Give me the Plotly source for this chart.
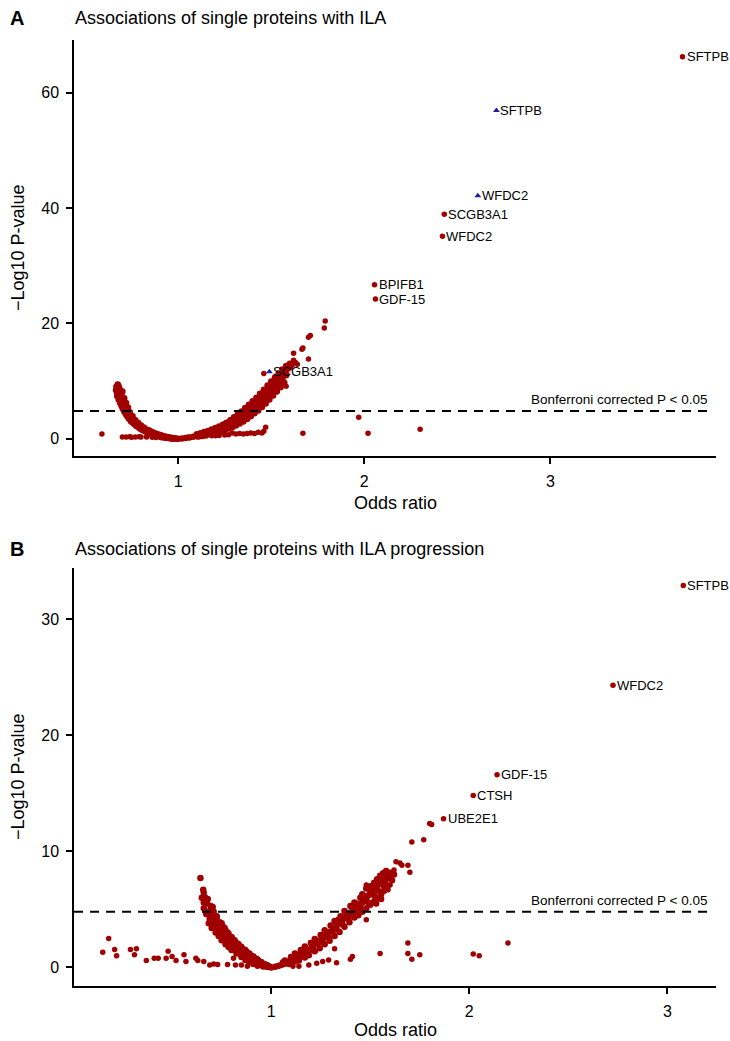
import plotly.graph_objects as go

# ================= Panel A (ILA) : odds ratio / -log10 P =================
# dense "V" band of proteins
a_band_or = [
    # left branch centre
    0.675, 0.68, 0.672, 0.685, 0.678, 0.69, 0.672, 0.695, 0.688, 0.70, 0.695, 0.705, 0.70, 0.712, 0.708,
    0.718, 0.715, 0.725, 0.722, 0.732, 0.73, 0.74, 0.738, 0.75, 0.748, 0.76, 0.765, 0.775, 0.78, 0.79,
    0.795, 0.805, 0.81, 0.82, 0.83, 0.84, 0.85, 0.86, 0.87, 0.88, 0.89, 0.90, 0.91, 0.92, 0.93, 0.94,
    0.95, 0.96, 0.97, 0.98, 0.99, 1.00,
    # left branch inner
    0.70, 0.71, 0.72, 0.73, 0.74, 0.755, 0.77, 0.785, 0.80, 0.815, 0.83, 0.845, 0.86, 0.875, 0.89, 0.905,
    0.92, 0.935, 0.95, 0.965, 0.98,
    # left branch outer
    0.668, 0.666, 0.672, 0.68, 0.688, 0.695, 0.702, 0.71, 0.718, 0.726, 0.735, 0.745, 0.755, 0.765,
    0.775, 0.79, 0.80, 0.815, 0.83, 0.845, 0.86, 0.875, 0.89, 0.905, 0.92, 0.935, 0.95, 0.965,
    # right branch centre
    1.02, 1.04, 1.06, 1.08, 1.10, 1.12, 1.14, 1.16, 1.18, 1.20, 1.22, 1.24, 1.26, 1.28, 1.30, 1.32, 1.34,
    1.36, 1.38, 1.40, 1.42, 1.44, 1.46, 1.48, 1.50, 1.52, 1.54, 1.56, 1.58, 1.60,
    # right branch upper
    1.10, 1.12, 1.14, 1.16, 1.18, 1.20, 1.22, 1.24, 1.26, 1.28, 1.30, 1.32, 1.34, 1.36, 1.38, 1.40,
    1.42, 1.44, 1.46, 1.48, 1.50, 1.52, 1.54, 1.56, 1.58, 1.60,
    # right branch lower
    1.11, 1.13, 1.15, 1.17, 1.19, 1.21, 1.23, 1.25, 1.27, 1.29, 1.31, 1.33, 1.35, 1.37, 1.39, 1.41,
    1.43, 1.45, 1.47, 1.49, 1.51, 1.53, 1.55, 1.57,
    # right branch mid rows
    1.25, 1.29, 1.33, 1.37, 1.41, 1.45, 1.49, 1.53, 1.57,
    1.27, 1.31, 1.35, 1.39, 1.43, 1.47, 1.51, 1.55,
    # right branch fill
    1.11, 1.15, 1.19, 1.21, 1.23, 1.25, 1.27, 1.29, 1.31, 1.33, 1.35, 1.36, 1.37, 1.38, 1.39, 1.40,
    1.41, 1.42, 1.43, 1.44, 1.45, 1.46, 1.47, 1.48, 1.49, 1.50, 1.51, 1.52, 1.53, 1.54, 1.55, 1.56,
    1.57, 1.58, 1.59, 1.61, 1.31, 1.34, 1.28, 1.24, 1.20, 1.16, 1.13,
]
a_band_lp = [
    9.4, 9.1, 8.8, 8.6, 8.2, 8.0, 7.8, 7.5, 7.2, 7.0, 6.6, 6.4, 6.0, 5.9, 5.5,
    5.3, 5.0, 4.8, 4.5, 4.3, 4.0, 3.8, 3.5, 3.3, 3.0, 2.9, 2.6, 2.45, 2.2, 2.05,
    1.85, 1.7, 1.5, 1.4, 1.25, 1.1, 0.98, 0.85, 0.75, 0.63, 0.52, 0.43, 0.36, 0.28, 0.22, 0.16,
    0.11, 0.07, 0.04, 0.02, 0.01, 0.0,
    8.2, 7.0, 6.2, 5.4, 4.6, 3.9, 3.2, 2.7, 2.3, 1.95, 1.6, 1.4, 1.15, 0.95, 0.78, 0.62,
    0.48, 0.35, 0.25, 0.15, 0.08,
    9.0, 8.4, 7.4, 6.8, 6.2, 5.7, 5.2, 4.7, 4.3, 3.9, 3.5, 3.1, 2.8, 2.5,
    2.2, 1.9, 1.65, 1.4, 1.15, 0.95, 0.75, 0.6, 0.45, 0.34, 0.24, 0.16, 0.1, 0.05,
    0.04, 0.12, 0.22, 0.34, 0.48, 0.62, 0.8, 0.98, 1.2, 1.42, 1.68, 1.95, 2.25, 2.6, 3.0, 3.4, 3.9,
    4.5, 5.1, 5.7, 6.3, 6.9, 7.5, 8.2, 8.9, 9.6, 10.4, 11.1, 11.8, 12.4,
    0.75, 0.95, 1.15, 1.35, 1.6, 1.85, 2.1, 2.4, 2.75, 3.2, 3.7, 4.2, 4.7, 5.3, 5.9, 6.5,
    7.1, 7.8, 8.5, 9.2, 9.9, 10.6, 11.3, 12.0, 12.6, 13.0,
    0.4, 0.5, 0.65, 0.8, 0.95, 1.1, 1.3, 1.5, 1.75, 2.0, 2.3, 2.65, 3.0, 3.4, 3.9, 4.4,
    4.9, 5.5, 6.1, 6.8, 7.5, 8.2, 8.9, 9.7,
    2.5, 3.3, 4.2, 5.2, 6.3, 7.5, 8.9, 10.3, 11.8,
    2.2, 2.8, 3.6, 4.6, 5.7, 7.0, 8.3, 9.7,
    0.6, 0.9, 1.25, 1.45, 1.75, 2.05, 2.45, 2.7, 3.05, 3.5, 4.0, 3.8, 4.6, 4.2, 5.0, 4.9,
    5.8, 5.4, 6.4, 6.1, 6.9, 6.6, 7.8, 7.3, 8.4, 8.1, 9.2, 8.8, 9.9, 9.5, 10.8, 10.4,
    11.5, 11.0, 12.2, 12.8, 3.5, 3.2, 2.3, 1.7, 1.2, 1.1, 0.7,
]
# scattered single proteins
a_red_or = [
    1.79, 1.785, 1.71, 1.70, 1.67, 1.665, 1.62, 1.70, 1.62, 1.46, 1.58, 1.34, 1.63, 1.64,
    0.59, 1.97, 1.67, 2.02, 2.30,
    0.70, 0.72, 0.74, 0.75, 0.77, 0.79, 0.80, 0.83, 0.86, 0.88, 0.91,
    1.29, 1.31, 1.33, 1.35, 1.37, 1.39, 1.41, 1.43, 1.45, 1.46, 1.47,
    1.05, 1.10, 1.13, 1.15, 1.18, 1.20, 1.22, 1.25, 1.27,
    3.71, 2.43, 2.42, 2.055, 2.06,
]
a_red_lp = [
    20.4, 19.2, 17.9, 17.6, 15.7, 15.5, 14.8, 13.8, 13.6, 11.3, 9.1, 3.9, 13.2, 12.9,
    0.8, 3.7, 0.95, 0.95, 1.65,
    0.3, 0.3, 0.32, 0.25, 0.3, 0.35, 0.28, 0.3, 0.25, 0.2, 0.15,
    1.0, 0.8, 0.9, 0.8, 0.9, 1.0, 0.9, 1.1, 1.0, 1.3, 2.0,
    0.25, 0.35, 0.4, 0.45, 0.5, 0.5, 0.55, 0.65, 0.7,
    66.2, 38.9, 35.1, 26.7, 24.2,
]
a_blue_or = [2.71, 2.61, 1.49]
a_blue_lp = [56.9, 42.1, 11.6]

a_red_labels = ["SFTPB", "SCGB3A1", "WFDC2", "BPIFB1", "GDF-15"]
a_red_label_or = [3.71, 2.43, 2.42, 2.055, 2.06]
a_red_label_lp = [66.2, 38.9, 35.1, 26.7, 24.2]
a_blue_labels = ["SFTPB", "WFDC2", "SCGB3A1"]

# ================= Panel B (ILA progression) =================
b_band_or = [
    # left centre
    0.643, 0.657, 0.66, 0.65, 0.668, 0.677, 0.66, 0.693, 0.70, 0.71, 0.715, 0.73, 0.745, 0.76, 0.775,
    0.79, 0.805, 0.82, 0.835, 0.85, 0.865, 0.88, 0.895, 0.91, 0.925, 0.94, 0.955, 0.97, 0.985, 1.0,
    # left outer
    0.672, 0.685, 0.70, 0.72, 0.735, 0.75, 0.77, 0.785, 0.80, 0.825, 0.85, 0.87, 0.89, 0.91, 0.935, 0.96,
    # left inner
    0.705, 0.725, 0.75, 0.765, 0.78, 0.80, 0.815, 0.835, 0.85, 0.87, 0.89, 0.91, 0.93, 0.95, 0.97, 0.985,
    # left mid-outer
    0.66, 0.675, 0.69, 0.705, 0.72, 0.735, 0.75, 0.77, 0.785, 0.80, 0.815, 0.83, 0.845, 0.86, 0.875,
    0.89, 0.905, 0.92, 0.94, 0.96, 0.98,
    # left mid-inner
    0.68, 0.695, 0.71, 0.725, 0.74, 0.755, 0.77, 0.785, 0.80, 0.815, 0.83, 0.845, 0.86, 0.875, 0.89,
    0.905, 0.92, 0.935, 0.95, 0.965, 0.98, 0.99,
    # right centre
    1.02, 1.05, 1.08, 1.11, 1.13, 1.16, 1.19, 1.215, 1.24, 1.27, 1.30, 1.33, 1.36, 1.38, 1.41, 1.44,
    1.46, 1.48, 1.50, 1.52, 1.55, 1.58, 1.60,
    # right centre (in-between)
    1.035, 1.065, 1.095, 1.145, 1.175, 1.20, 1.23, 1.255, 1.285, 1.315, 1.345, 1.37, 1.395, 1.425,
    1.45, 1.47, 1.49, 1.51, 1.535, 1.565, 1.59,
    # right upper
    1.10, 1.15, 1.20, 1.25, 1.30, 1.35, 1.40, 1.45, 1.48, 1.52, 1.55, 1.58,
    1.07, 1.12, 1.17, 1.22, 1.27, 1.32, 1.37, 1.42, 1.46, 1.50, 1.535, 1.565,
    # right lower
    1.12, 1.17, 1.22, 1.27, 1.32, 1.37, 1.42, 1.46, 1.50, 1.54, 1.57,
    1.09, 1.14, 1.19, 1.245, 1.295, 1.345, 1.395, 1.44, 1.48, 1.52, 1.555,
    # right fill
    1.06, 1.10, 1.12, 1.15, 1.18, 1.21, 1.23, 1.26, 1.28, 1.29, 1.31, 1.33, 1.34, 1.36, 1.38, 1.39,
    1.41, 1.42, 1.43, 1.45, 1.47, 1.49, 1.50, 1.52, 1.53, 1.54, 1.56, 1.57, 1.59, 1.61, 1.62, 1.585,
    1.555, 1.53,
]
b_band_lp = [
    7.7, 6.7, 6.4, 6.0, 6.0, 5.5, 5.1, 4.9, 4.5, 4.2, 3.8, 3.5, 3.2, 2.9, 2.6,
    2.3, 2.0, 1.75, 1.5, 1.3, 1.1, 0.9, 0.72, 0.56, 0.42, 0.3, 0.2, 0.12, 0.05, 0.0,
    4.6, 3.8, 3.4, 3.0, 2.7, 2.35, 2.0, 1.75, 1.5, 1.2, 0.9, 0.65, 0.45, 0.3, 0.18, 0.08,
    5.2, 4.4, 3.8, 3.4, 3.0, 2.6, 2.35, 2.0, 1.75, 1.5, 1.2, 0.95, 0.7, 0.45, 0.25, 0.12,
    5.6, 4.8, 4.2, 3.7, 3.3, 3.0, 2.7, 2.35, 2.05, 1.8, 1.55, 1.35, 1.15, 0.95, 0.78,
    0.62, 0.48, 0.36, 0.24, 0.14, 0.06,
    5.9, 5.3, 4.8, 4.3, 3.9, 3.55, 3.2, 2.9, 2.6, 2.3, 2.05, 1.8, 1.55, 1.35, 1.15,
    0.95, 0.78, 0.6, 0.45, 0.3, 0.18, 0.08,
    0.05, 0.2, 0.4, 0.62, 0.85, 1.1, 1.4, 1.9, 2.2, 2.6, 3.1, 3.6, 4.1, 4.4, 4.8, 5.2,
    5.6, 6.0, 6.4, 6.8, 7.2, 7.6, 7.9,
    0.12, 0.3, 0.5, 1.0, 1.25, 1.6, 2.05, 2.4, 2.85, 3.35, 3.85, 4.25, 4.6, 5.0,
    5.4, 5.8, 6.2, 6.6, 7.0, 7.4, 7.75,
    0.9, 1.5, 2.1, 2.8, 3.6, 4.4, 5.3, 6.0, 6.8, 7.3, 7.9, 8.3,
    0.6, 1.2, 1.8, 2.45, 3.2, 4.0, 4.85, 5.6, 6.3, 7.0, 7.6, 8.1,
    0.5, 0.85, 1.4, 2.0, 2.7, 3.5, 4.3, 4.8, 5.4, 6.0, 6.6,
    0.3, 0.6, 1.05, 1.65, 2.3, 3.05, 3.9, 4.5, 5.1, 5.7, 6.3,
    0.45, 0.7, 0.95, 1.25, 1.5, 1.75, 2.3, 2.2, 3.0, 2.6, 3.1, 3.3, 4.1, 3.7, 4.7, 4.2,
    5.1, 4.7, 5.5, 5.0, 6.1, 5.6, 6.8, 6.2, 7.3, 6.6, 7.6, 7.0, 8.0, 7.5, 8.0, 6.9,
    5.9, 5.5,
]
b_red_or = [
    1.71, 1.63, 1.65, 1.66, 1.69, 1.70, 1.60, 1.57, 1.62, 1.58, 1.60, 1.59, 1.55, 1.53, 1.48, 1.51,
    1.48, 1.46, 1.77, 1.80, 1.81,
    0.15, 0.18, 0.21, 0.22, 0.29, 0.32, 0.31, 0.37, 0.41, 0.43, 0.48, 0.47, 0.50, 0.52, 0.56, 0.57,
    0.62, 0.63, 0.66, 0.69, 0.71, 0.73, 0.78, 0.81, 0.82, 0.85, 0.88, 0.93, 1.11, 1.14, 1.19, 1.23,
    1.26, 1.29, 1.33, 1.32, 1.40, 1.41, 1.55, 1.69, 1.69, 1.71, 1.75, 2.02, 2.05, 2.195,
    3.08, 2.725, 2.14, 2.02, 1.87,
]
b_red_lp = [
    10.8, 9.1, 9.0, 8.8, 8.8, 8.2, 8.2, 8.0, 8.4, 7.2, 7.1, 6.7, 6.5, 7.1, 7.1, 6.4,
    4.1, 4.9, 11.0, 12.4, 12.3,
    1.3, 2.5, 1.55, 1.0, 1.55, 1.6, 1.1, 0.6, 0.8, 0.8, 1.4, 0.8, 0.95, 0.6, 1.1, 0.5,
    0.8, 0.6, 0.5, 0.2, 0.3, 0.25, 0.25, 0.8, 0.2, 0.2, 0.1, 0.1, 0.1, 0.1, 0.2, 0.35,
    0.5, 0.65, 0.4, 1.6, 0.7, 0.95, 1.2, 2.1, 1.2, 0.7, 1.1, 1.15, 1.0, 2.1,
    32.9, 24.3, 16.6, 14.8, 12.8,
]
b_labels = ["SFTPB", "WFDC2", "GDF-15", "CTSH", "UBE2E1"]
b_label_or = [3.08, 2.725, 2.14, 2.02, 1.87]
b_label_lp = [32.9, 24.3, 16.6, 14.8, 12.8]

bonferroni_lp = 4.8
x_ticks = [1, 2, 3]
a_y_ticks = [0, 20, 40, 60]
b_y_ticks = [0, 10, 20, 30]

RED = "#A00000"
BLUE = "#1C1C9C"
FONT = "Liberation Sans, Arial, Helvetica, sans-serif"
W, H = 730, 1041

fig = go.Figure()
band_marker = dict(color=RED, size=6.5, line=dict(width=0))
dot_marker = dict(color=RED, size=5.5, line=dict(width=0))
fig.add_trace(go.Scatter(x=a_band_or, y=a_band_lp, mode="markers", xaxis="x", yaxis="y",
                         marker=band_marker, showlegend=False))
fig.add_trace(go.Scatter(x=a_red_or, y=a_red_lp, mode="markers", xaxis="x", yaxis="y",
                         marker=dot_marker, showlegend=False))
fig.add_trace(go.Scatter(x=a_blue_or, y=a_blue_lp, mode="markers", xaxis="x", yaxis="y",
                         marker=dict(color=BLUE, size=6, symbol="triangle-up", line=dict(width=0)),
                         showlegend=False))
fig.add_trace(go.Scatter(x=b_band_or, y=b_band_lp, mode="markers", xaxis="x2", yaxis="y2",
                         marker=band_marker, showlegend=False))
fig.add_trace(go.Scatter(x=b_red_or, y=b_red_lp, mode="markers", xaxis="x2", yaxis="y2",
                         marker=dot_marker, showlegend=False))


def px2x(px):
    return px / W


def py2y(py):
    return 1 - py / H


ax_common = dict(showline=True, linecolor="black", linewidth=1.5, ticks="outside", ticklen=6,
                 tickwidth=1.5, tickcolor="black", showgrid=False, zeroline=False,
                 ticklabelstandoff=4,
                 tickfont=dict(family=FONT, size=16, color="black"))

fig.update_layout(
    width=W, height=H, margin=dict(l=0, r=0, t=0, b=0),
    paper_bgcolor="white", plot_bgcolor="white",
    font=dict(family=FONT, color="black"),
    xaxis=dict(domain=[px2x(74), px2x(716)], anchor="y", range=[0.44, 3.89], tickvals=x_ticks, **ax_common),
    yaxis=dict(domain=[py2y(456), py2y(40)], anchor="x", range=[-3.0, 69.1], tickvals=a_y_ticks, **ax_common),
    xaxis2=dict(domain=[px2x(74), px2x(716)], anchor="y2", range=[0.005, 3.245], tickvals=x_ticks, **ax_common),
    yaxis2=dict(domain=[py2y(986), py2y(568)], anchor="x2", range=[-1.6, 34.4], tickvals=b_y_ticks, **ax_common),
)

dash = dict(color="black", width=2, dash="9px,7px")
fig.add_shape(type="line", xref="x domain", yref="y", x0=0, x1=0.99, y0=bonferroni_lp, y1=bonferroni_lp, line=dash)
fig.add_shape(type="line", xref="x2 domain", yref="y2", x0=0, x1=0.99, y0=bonferroni_lp, y1=bonferroni_lp, line=dash)

ann = []
lab_font = dict(family=FONT, size=13, color="black")
for t, xv, yv in zip(a_red_labels, a_red_label_or, a_red_label_lp):
    ann.append(dict(x=xv, y=yv, xref="x", yref="y", text=t, showarrow=False, xanchor="left",
                    yanchor="middle", xshift=2, font=lab_font))
for t, xv, yv in zip(a_blue_labels, a_blue_or, a_blue_lp):
    ann.append(dict(x=xv, y=yv, xref="x", yref="y", text=t, showarrow=False, xanchor="left",
                    yanchor="middle", xshift=2, font=lab_font))
for t, xv, yv in zip(b_labels, b_label_or, b_label_lp):
    ann.append(dict(x=xv, y=yv, xref="x2", yref="y2", text=t, showarrow=False, xanchor="left",
                    yanchor="middle", xshift=2, font=lab_font))

bon_font = dict(family=FONT, size=13.5, color="black")
for yr in ["y", "y2"]:
    ann.append(dict(x=px2x(709), y=bonferroni_lp, xref="paper", yref=yr, text="Bonferroni corrected P < 0.05",
                    showarrow=False, xanchor="right", yanchor="bottom", yshift=2, font=bon_font))

title_font = dict(family=FONT, size=18, color="black")
letter_font = dict(family=FONT, size=20, color="black")
ann += [
    dict(x=px2x(17), y=py2y(18), xref="paper", yref="paper", text="<b>A</b>", showarrow=False,
         xanchor="center", yanchor="middle", font=letter_font),
    dict(x=px2x(73), y=py2y(18), xref="paper", yref="paper", text="Associations of single proteins with ILA",
         showarrow=False, xanchor="left", yanchor="middle", font=title_font),
    dict(x=px2x(17), y=py2y(549), xref="paper", yref="paper", text="<b>B</b>", showarrow=False,
         xanchor="center", yanchor="middle", font=letter_font),
    dict(x=px2x(73), y=py2y(549), xref="paper", yref="paper",
         text="Associations of single proteins with ILA progression",
         showarrow=False, xanchor="left", yanchor="middle", font=title_font),
    dict(x=px2x(395), y=py2y(503), xref="paper", yref="paper", text="Odds ratio", showarrow=False,
         xanchor="center", yanchor="middle", font=title_font),
    dict(x=px2x(395), y=py2y(1030), xref="paper", yref="paper", text="Odds ratio", showarrow=False,
         xanchor="center", yanchor="middle", font=title_font),
    dict(x=px2x(18), y=py2y(248), xref="paper", yref="paper", text="\u2212Log10 P-value", showarrow=False,
         xanchor="center", yanchor="middle", textangle=-90, font=title_font),
    dict(x=px2x(18), y=py2y(777), xref="paper", yref="paper", text="\u2212Log10 P-value", showarrow=False,
         xanchor="center", yanchor="middle", textangle=-90, font=title_font),
]
fig.update_layout(annotations=ann)

fig.write_html("out.html")
